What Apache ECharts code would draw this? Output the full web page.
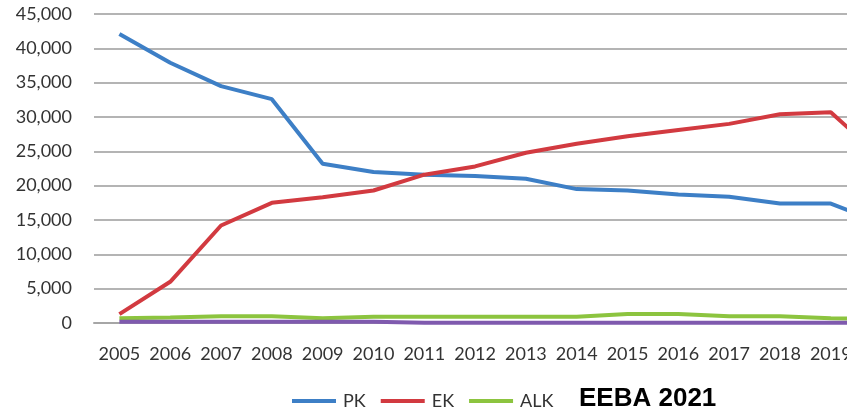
<!DOCTYPE html>
<html>
<head>
<meta charset="utf-8">
<script src="https://cdn.jsdelivr.net/npm/echarts@6/dist/echarts.min.js"></script>
<style>
html,body{margin:0;padding:0;background:#fff;}
#chart{width:847px;height:409px;}
</style>
</head>
<body>
<div id="chart"></div>
<script>
var years = ['2005','2006','2007','2008','2009','2010','2011','2012','2013','2014','2015','2016','2017','2018','2019','2020'];
var pk  = [42100, 37900, 34500, 32600, 23200, 22000, 21600, 21400, 21000, 19500, 19300, 18700, 18400, 17400, 17400, 14500];
var ek  = [1300, 6000, 14200, 17500, 18300, 19300, 21600, 22800, 24800, 26100, 27200, 28100, 29000, 30400, 30700, 24000];
var alk = [700, 800, 1000, 1000, 700, 900, 900, 900, 900, 900, 1300, 1300, 1000, 1000, 700, 600];
var other = [200, 200, 200, 200, 200, 200, 50, 50, 50, 50, 50, 50, 50, 50, 50, 50];
var yTicks = [0, 5000, 10000, 15000, 20000, 25000, 30000, 35000, 40000, 45000];

var chart = echarts.init(document.getElementById('chart'), null, {renderer: 'canvas'});
var font = 'Lato, "Open Sans", sans-serif';
function fmt(v){ return v.toString().replace(/\B(?=(\d{3})+(?!\d))/g, ','); }
var lineSeries = function(name, data, color){
  return {name: name, type: 'line', data: data, symbol: 'none', smooth: false,
    lineStyle: {width: 4, color: color}, itemStyle: {color: color}, animation: false};
};
chart.setOption({
  animation: false,
  title: {
    text: 'EEBA 2021', left: 574, top: 381,
    textStyle: {fontFamily: '"Liberation Sans", Arial, sans-serif', fontWeight: 'bold', fontSize: 26, color: '#000'}
  },
  grid: {left: 94, width: 813, top: 14, height: 309, outerBoundsMode: 'none', containLabel: false},
  legend: {
    data: ['PK', 'EK', 'ALK'], left: 287, top: 387, icon: 'rect',
    itemWidth: 44, itemHeight: 4, itemGap: 15,
    textStyle: {fontFamily: font, fontSize: 18, color: '#333', padding: [0,0,0,2]}
  },
  xAxis: {
    type: 'category', data: years, boundaryGap: true,
    axisLine: {show: true, lineStyle: {color: '#a6a6a6', width: 2}},
    axisTick: {show: false},
    axisLabel: {fontFamily: font, fontSize: 18, color: '#333', margin: 22, interval: 0},
    splitLine: {show: false}
  },
  yAxis: {
    type: 'value', min: yTicks[0], max: yTicks[yTicks.length-1], interval: 5000,
    axisLine: {show: false}, axisTick: {show: false},
    axisLabel: {fontFamily: font, fontSize: 18, color: '#333', margin: 22, formatter: fmt},
    splitLine: {lineStyle: {color: '#b4b4b4', width: 2}}
  },
  series: [
    lineSeries('PK', pk, '#3d7fc6'),
    lineSeries('EK', ek, '#d23a40'),
    lineSeries('ALK', alk, '#8cc43f'),
    lineSeries('Diğer', other, '#7f5aae')
  ]
});
</script>
</body>
</html>
